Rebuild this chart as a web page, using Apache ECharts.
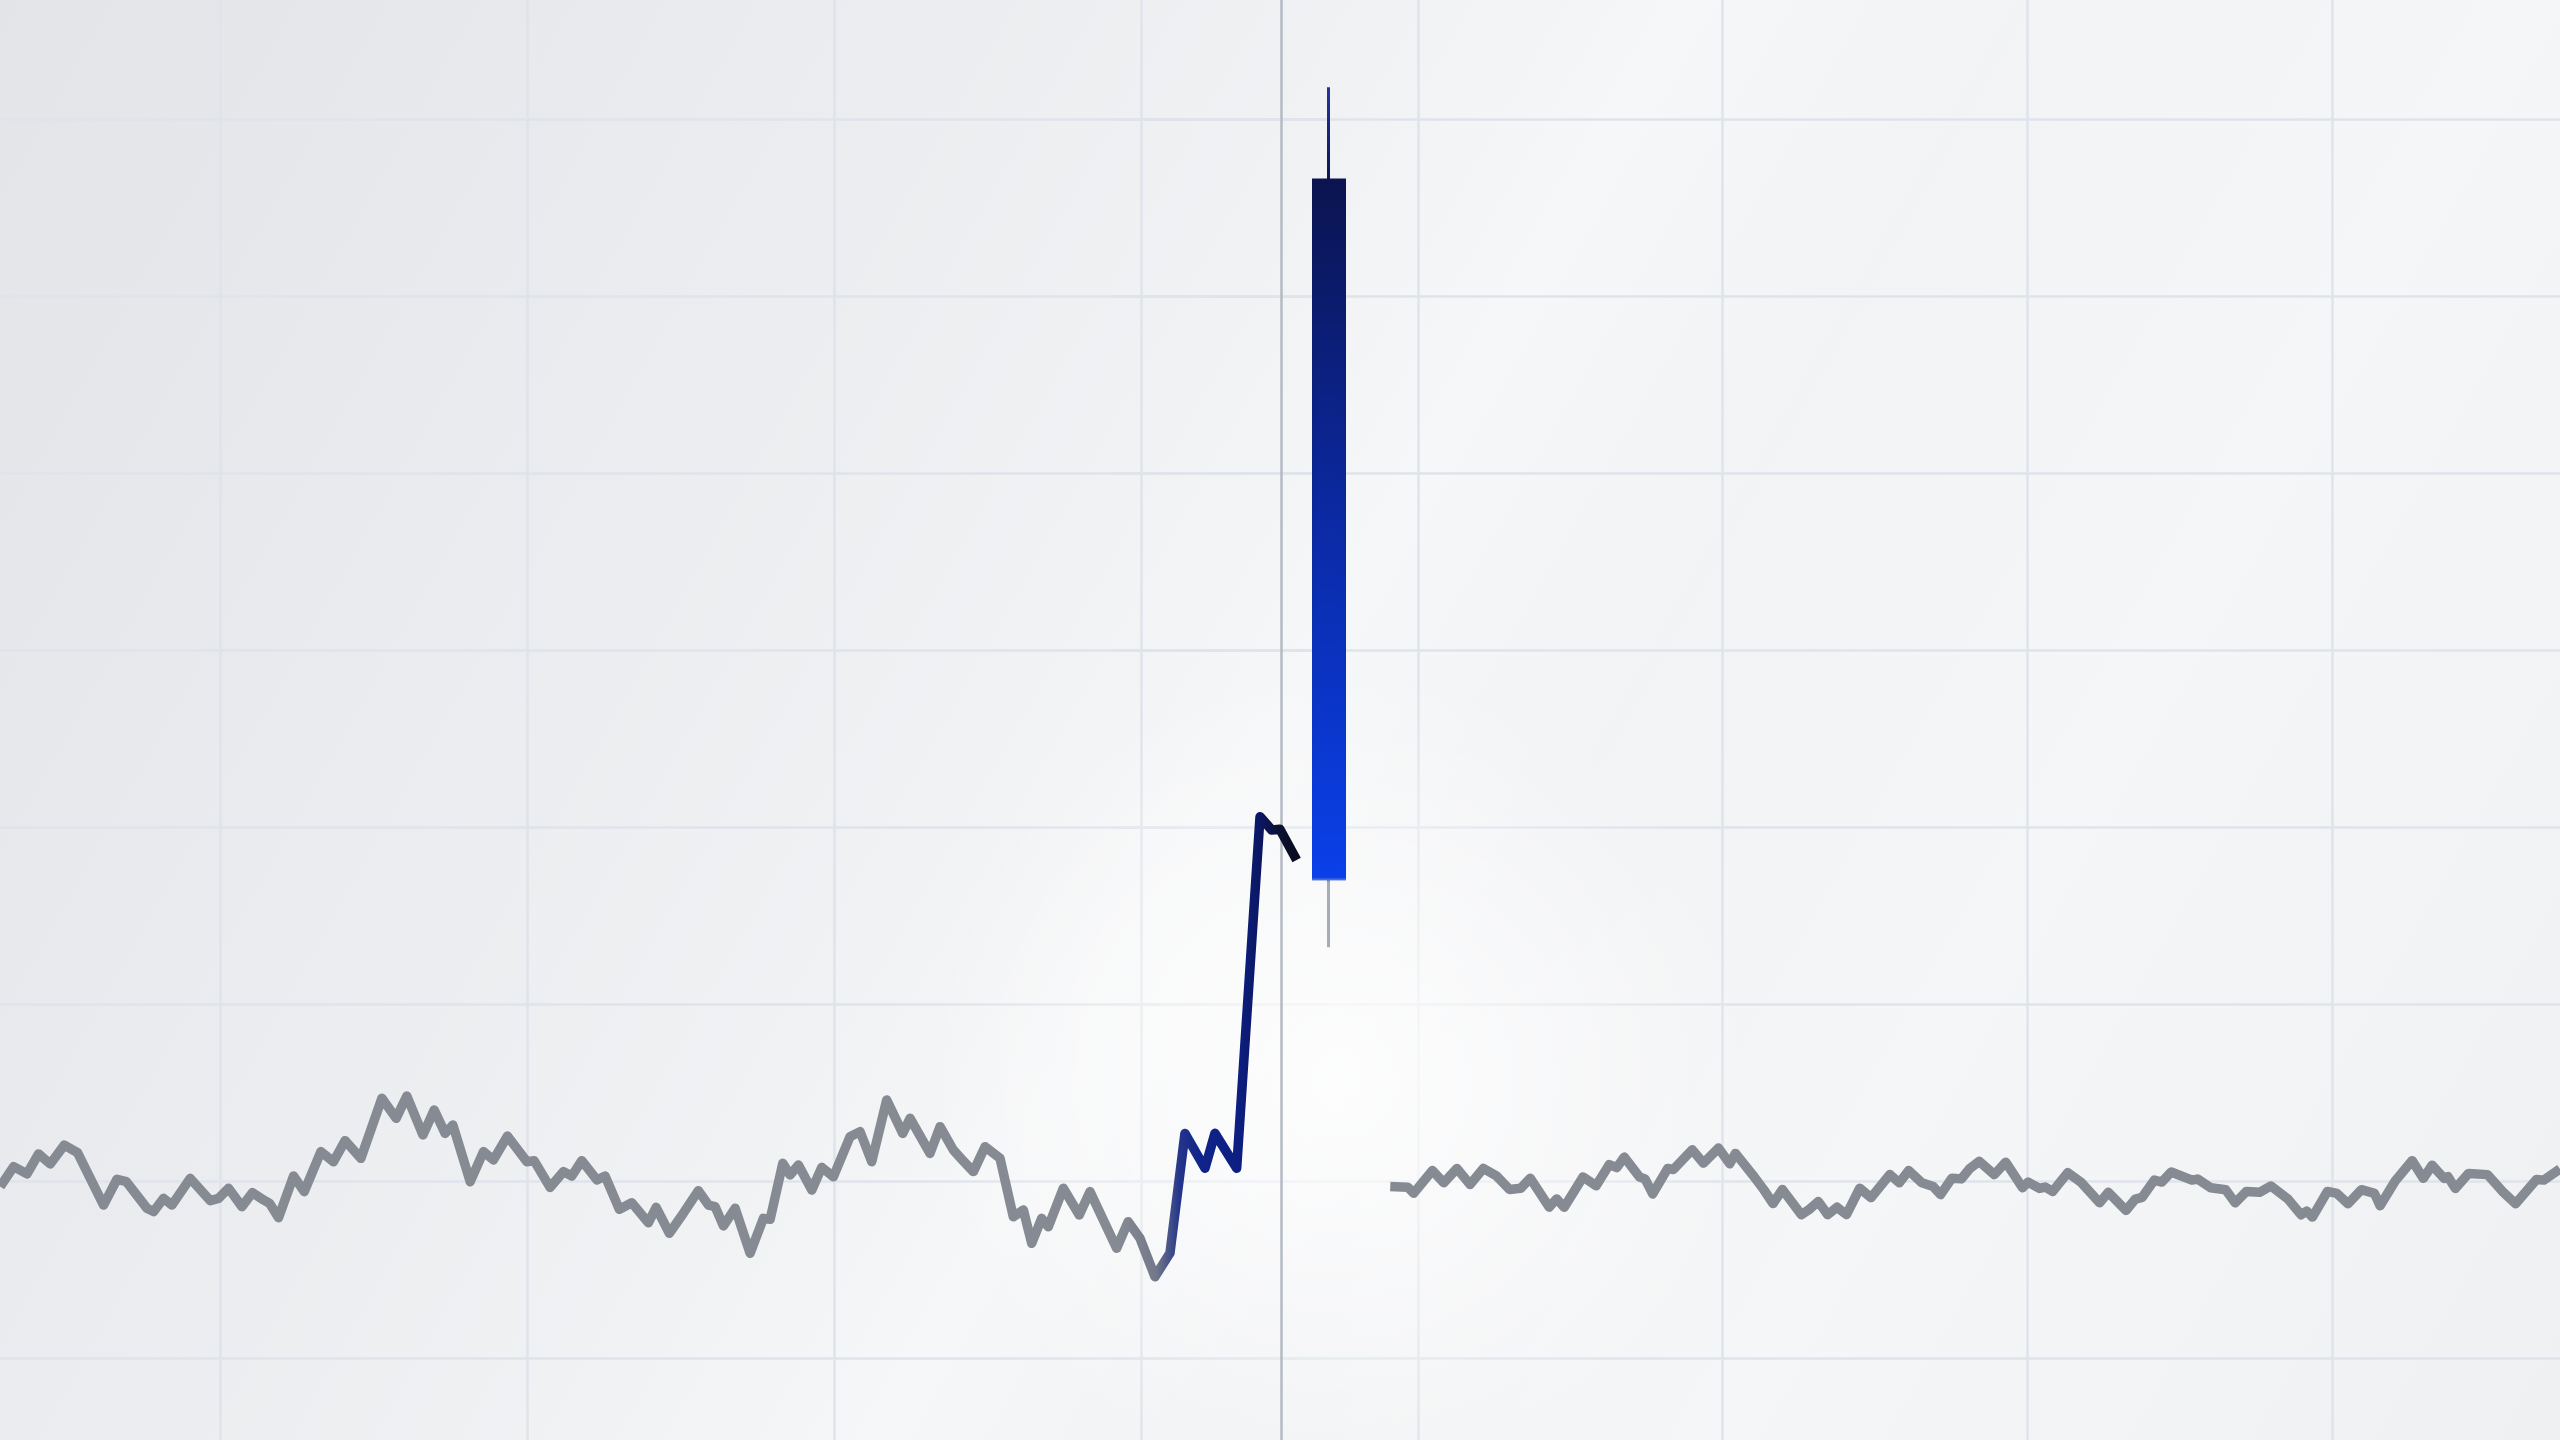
<!DOCTYPE html>
<html><head><meta charset="utf-8">
<script src="https://cdn.jsdelivr.net/npm/echarts@6/dist/echarts.min.js"></script>
<style>html,body{margin:0;padding:0;width:2560px;height:1440px;overflow:hidden;background:#eef0f2}#c{width:2560px;height:1440px}</style>
</head><body><div id="c"></div>
<script>
// Left price line (before the break): x in steps, y in value units
const leftX = [7.1,8.19,9.28,10.22,11.17,12.31,13.39,15.51,16.6,17.36,19.04,19.58,20.39,21.07,22.56,24.19,24.87,25.68,26.77,27.63,28.53,29.02,29.75,30.97,31.84,33.2,34.22,35.17,36.45,38.16,39.32,40.19,41.5,42.42,43.31,43.94,45.35,46.43,47.24,48.38,49.96,50.55,51.85,52.94,53.62,54.43,55.66,56.33,57.49,58.5,59.85,60.48,61.56,62.7,63.92,64.74,65.28,65.96,66.91,68.13,69.21,69.76,70.79,71.38,72.06,73.15,73.96,74.91,76.26,77.08,78.03,79.25,80.55,81.15,82.77,83.59,84.67,85.35,86.3,87.25,88.47,89.55,90.37,91.05,91.86,92.4,93.62,94.92,95.79,97.96,98.9,99.86,101.08,102.3,103.52,105.15,105.96,107.73,109.63,110.58,111.25,112.61];
const leftY = [9.68,10.81,10.4,11.53,10.96,12.03,11.6,8.64,10.1,9.96,8.46,8.27,9.02,8.64,10.15,8.89,9.02,9.59,8.55,9.34,8.93,8.74,7.93,10.28,9.4,11.66,11.09,12.28,11.28,14.67,13.54,14.8,12.6,14.01,12.69,13.16,9.96,11.66,11.19,12.54,11.09,11.15,9.64,10.53,10.28,11.15,10.06,10.28,8.4,8.77,7.64,8.51,7.05,8.18,9.45,8.64,8.55,7.46,8.46,5.92,7.89,7.84,11.0,10.34,10.9,9.49,10.77,10.24,12.5,12.79,11.09,14.58,12.69,13.54,11.56,13.07,11.75,11.23,10.53,11.94,11.28,7.98,8.36,6.48,7.89,7.42,9.59,8.08,9.4,6.2,7.7,6.76,4.59,5.93,12.69,10.72,12.69,10.72,30.58,29.83,29.87,28.14];
// Right price line (after the break)
const rightX = [22.74,24.19,24.66,26.2,27.13,28.21,29.29,30.37,31.45,32.53,33.45,34.22,35.78,36.39,37.01,38.55,39.63,40.71,41.33,41.94,43.18,43.64,44.27,45.5,45.96,47.51,48.43,49.66,50.59,51.06,52.44,53.37,54.14,54.91,56.46,57.07,57.85,58.62,59.39,60.16,61.25,62.17,63.72,64.49,65.26,66.34,67.27,67.88,68.81,69.58,70.28,71.05,72.29,73.22,74.6,75.06,75.99,76.46,77.07,78.31,79.38,80.93,81.64,83.09,83.86,84.42,85.41,86.03,86.8,88.5,88.96,90.04,91.27,92.04,92.97,94.05,94.98,96.37,97.45,97.91,98.38,99.61,100.39,101.3,102.39,103.47,103.93,105.17,106.56,107.48,108.2,109.18,109.49,110.11,111.19,112.74,113.97,115.05,116.75,117.36,118.68];
const rightY = [9.69,9.65,9.31,10.59,9.9,10.71,9.8,10.71,10.29,9.52,9.59,10.16,8.52,8.99,8.52,10.23,9.73,10.93,10.76,11.35,10.23,10.12,9.27,10.71,10.65,11.77,11.01,11.86,10.97,11.56,10.37,9.52,8.73,9.52,8.1,8.37,8.84,8.1,8.52,8.1,9.59,9.06,10.37,9.9,10.59,9.9,9.69,9.23,10.16,10.12,10.71,11.11,10.36,11.06,9.62,9.94,9.58,9.66,9.41,10.47,9.94,8.77,9.36,8.34,8.98,9.08,10.05,9.94,10.51,10.05,10.11,9.62,9.51,8.77,9.41,9.36,9.72,8.98,8.09,8.3,7.96,9.41,9.3,8.72,9.51,9.3,8.6,10.0,11.15,10.15,10.89,10.15,10.25,9.58,10.43,10.36,9.41,8.72,10.08,10.05,10.68];
// The single candle: x, open, close, low, high
const candleX = [17.7];
const candleOpen = [27.06];
const candleClose = [66.55];
const candleLow = [23.2];
const candleHigh = [71.8];
// Divider position (right grid units)
const dividerX = [13.84];

const chart = echarts.init(document.getElementById('c'), null, {renderer: 'canvas'});
const G = echarts.graphic;
const gray = '#858a93';
const splitStyle = {show: true, showMinLine: false, showMaxLine: false, lineStyle: {color: '#dfe3ea', width: 2.5}};
const yAx = (gi) => ({type: 'value', gridIndex: gi, min: -10, max: 80, interval: 10,
  axisLine: {show: false}, axisTick: {show: false}, axisLabel: {show: false}, splitLine: splitStyle});
const xAx = (gi, max) => ({type: 'value', gridIndex: gi, min: 0, max: max, interval: 25,
  axisLine: {show: false}, axisTick: {show: false}, axisLabel: {show: false}, splitLine: splitStyle});

const option = {
  animation: false,
  backgroundColor: new G.LinearGradient(0, 0, 1, 1, [
    {offset: 0, color: '#e2e4e8'},
    {offset: 0.25, color: '#eaecef'},
    {offset: 0.42, color: '#f1f2f4'},
    {offset: 0.5, color: '#f6f7f8'},
    {offset: 0.6, color: '#f2f3f5'},
    {offset: 0.75, color: '#f5f6f7'},
    {offset: 1, color: '#eef0f2'}
  ]),
  graphic: [{
    type: 'circle', silent: true, z: 1,
    shape: {cx: 1340, cy: 1080, r: 420},
    style: {fill: new G.RadialGradient(0.5, 0.5, 0.5, [
      {offset: 0, color: 'rgba(255,255,255,0.85)'},
      {offset: 1, color: 'rgba(255,255,255,0)'}
    ])}
  }],
  grid: [
    {left: -87, right: 1234, top: -58, bottom: -95, outerBoundsMode: 'none'},
    {left: 1113, right: -16, top: -58, bottom: -95, outerBoundsMode: 'none'}
  ],
  xAxis: [xAx(0, 115), xAx(1, 120)],
  yAxis: [yAx(0), yAx(1)],
  series: [
    {
      type: 'line', xAxisIndex: 0, yAxisIndex: 0, z: 5,
      data: leftX.map((x, i) => [x, leftY[i]]),
      showSymbol: false, symbol: 'none',
      lineStyle: {width: 9.5, join: 'round',
        color: new G.LinearGradient(1120, 0, 1300, 0, [
          {offset: 0, color: gray},
          {offset: 0.2, color: '#737989'},
          {offset: 0.33, color: '#24358a'},
          {offset: 0.45, color: '#10238a'},
          {offset: 0.65, color: '#0d1f82'},
          {offset: 0.78, color: '#0b1662'},
          {offset: 0.88, color: '#0b1233'},
          {offset: 1, color: '#070a18'}
        ], true)}
    },
    {
      type: 'candlestick', xAxisIndex: 1, yAxisIndex: 1, z: 4,
      barWidth: 32,
      encode: {x: 0, y: [1, 2, 3, 4]},
      data: candleX.map((x, i) => [x, candleOpen[i], candleClose[i], candleLow[i], candleHigh[i]]),
      itemStyle: (function () {
        const fill = new G.LinearGradient(0, 180, 0, 879, [
          {offset: 0, color: '#0b1450'},
          {offset: 0.5, color: '#0b2aa6'},
          {offset: 1, color: '#0a40ea'}
        ], true);
        const stroke = new G.LinearGradient(0, 87, 0, 947, [
          {offset: 0, color: '#2334a6'},
          {offset: 0.108, color: '#0b1450'},
          {offset: 0.919, color: '#0a40ea'},
          {offset: 0.925, color: '#a6acb7'},
          {offset: 1, color: '#a6acb7'}
        ], true);
        return {color: fill, color0: fill, borderColor: stroke, borderColor0: stroke, borderWidth: 3};
      })()
    },
    {
      type: 'line', xAxisIndex: 1, yAxisIndex: 1, z: 2,
      data: rightX.map((x, i) => [x, rightY[i]]),
      showSymbol: false, symbol: 'none',
      lineStyle: {width: 9.5, join: 'round', color: gray},
      markLine: {
        silent: true, symbol: ['none', 'none'], label: {show: false}, z: 2,
        lineStyle: {color: '#b5bac3', width: 2.5, type: 'solid'},
        data: dividerX.map(v => ({xAxis: v}))
      }
    }
  ]
};
chart.setOption(option);
</script></body></html>
